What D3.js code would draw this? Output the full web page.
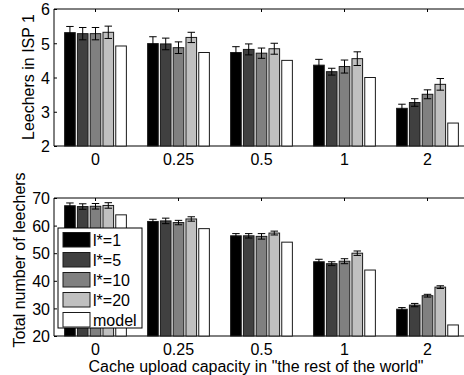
<!DOCTYPE html>
<html>
<head>
<meta charset="utf-8">
<script src="https://cdn.jsdelivr.net/npm/d3@7"></script>
<style>
  body { margin: 0; background: #fff; }
  text { font-family: "Liberation Sans", Arial, sans-serif; fill: #000; }
</style>
</head>
<body>
<svg id="chart" width="464" height="375"></svg>
<script>
// Cache upload capacity groups
const groups = ["0", "0.25", "0.5", "1", "2"];
const seriesNames = ["l*=1", "l*=5", "l*=10", "l*=20", "model"];
const seriesColors = ["#000000", "#404040", "#808080", "#c0c0c0", "#ffffff"];

// Leechers in ISP 1 (one array per series, by group)
const ispL1 = [5.31, 4.99, 4.73, 4.36, 3.10];
const ispL5 = [5.28, 4.98, 4.82, 4.17, 3.27];
const ispL10 = [5.28, 4.87, 4.71, 4.32, 3.51];
const ispL20 = [5.32, 5.17, 4.84, 4.55, 3.80];
const ispModel = [4.92, 4.73, 4.50, 4.00, 2.67];
const ispErrL1 = [0.18, 0.20, 0.17, 0.17, 0.12];
const ispErrL5 = [0.18, 0.17, 0.16, 0.10, 0.11];
const ispErrL10 = [0.18, 0.17, 0.15, 0.19, 0.13];
const ispErrL20 = [0.18, 0.15, 0.16, 0.20, 0.17];

// Total number of leechers
const totL1 = [67.2, 61.5, 56.3, 46.9, 29.7];
const totL5 = [66.9, 61.7, 56.3, 46.2, 31.2];
const totL10 = [67.0, 61.1, 56.1, 47.1, 34.6];
const totL20 = [67.3, 62.4, 57.3, 50.0, 37.7];
const totModel = [63.9, 58.9, 54.0, 43.9, 24.0];
const totErrL1 = [1.0, 0.8, 0.8, 0.9, 0.6];
const totErrL5 = [1.0, 1.0, 0.8, 0.7, 0.6];
const totErrL10 = [1.0, 0.8, 1.0, 0.9, 0.5];
const totErrL20 = [1.0, 0.8, 0.7, 0.8, 0.5];

const ispTicks = [2, 3, 4, 5, 6];
const totTicks = [20, 30, 40, 50, 60, 70];

const svg = d3.select("#chart");

// x position: group index 1..5, matlab-like limits
const x = d3.scaleLinear().domain([0.5, 5.5]).range([54, 469]);
const slot = 0.154;      // offset between bars in a group
const barW = 0.128;      // bar width in data units
const capW = 0.045;      // half width of error caps

function drawPanel(cfg) {
    const y = d3.scaleLinear().domain(cfg.domain).range(cfg.range);
    const g = svg.append("g");

    // flatten into bar records
    let bars = [];
    cfg.values.forEach((vals, s) => {
        vals.forEach((v, i) => {
            bars.push({
                s: s, i: i, value: v,
                err: cfg.errors[s] ? cfg.errors[s][i] : null
            });
        });
    });

    // x tick labels
    g.selectAll(".xlab")
        .data(groups)
        .join("text")
        .attr("x", (d, i) => x(i + 1))
        .attr("y", y.range()[0] + 19)
        .attr("text-anchor", "middle")
        .style("font-size", "16px")
        .text(d => d);

    // y axis with ticks pointing inward
    const yAxis = g.append("g")
        .attr("transform", `translate(${x(0.5)},0)`)
        .call(d3.axisLeft(y).tickValues(cfg.ticks).tickFormat(d3.format("d")).tickSize(-3).tickPadding(4));
    yAxis.select(".domain").remove();
    yAxis.selectAll("line").attr("stroke", "#000");
    yAxis.selectAll("text")
        .style("font-size", "16px")
        .style("font-family", "Liberation Sans, Arial, sans-serif")
        .attr("dy", "0.36em");

    // top ticks pointing down
    g.selectAll(".ttick")
        .data(groups)
        .join("line")
        .attr("x1", (d, i) => x(i + 1))
        .attr("x2", (d, i) => x(i + 1))
        .attr("y1", y.range()[1])
        .attr("y2", y.range()[1] + 3)
        .attr("stroke", "#000");

    // axis frame: left, top, bottom
    g.append("path")
        .attr("d", `M${x(5.5)},${y.range()[1]}H${x(0.5)}V${y.range()[0]}H${x(5.5)}`)
        .attr("fill", "none")
        .attr("stroke", "#000")
        .attr("stroke-width", 1);

    // bars
    g.selectAll(".bar")
        .data(bars)
        .join("rect")
        .attr("x", d => x(d.i + 1 + (d.s - 2) * slot - barW / 2))
        .attr("width", x(barW) - x(0))
        .attr("y", d => y(d.value))
        .attr("height", d => y(cfg.domain[0]) - y(d.value))
        .attr("fill", d => seriesColors[d.s])
        .attr("stroke", "#1a1a1a")
        .attr("stroke-width", 1);

    // error bars
    const eb = bars.filter(d => d.err !== null);
    const cx = d => x(d.i + 1 + (d.s - 2) * slot);
    g.selectAll(".errv")
        .data(eb)
        .join("line")
        .attr("x1", cx).attr("x2", cx)
        .attr("y1", d => y(d.value - d.err))
        .attr("y2", d => y(d.value + d.err))
        .attr("stroke", "#000");
    [-1, 1].forEach(sign => {
        g.selectAll(".cap" + sign)
            .data(eb)
            .join("line")
            .attr("x1", d => cx(d) - (x(capW) - x(0)))
            .attr("x2", d => cx(d) + (x(capW) - x(0)))
            .attr("y1", d => y(d.value + sign * d.err))
            .attr("y2", d => y(d.value + sign * d.err))
            .attr("stroke", "#000");
    });

    // y label
    g.append("text")
        .attr("transform", `translate(${cfg.labelX},${cfg.labelY}) rotate(-90)`)
        .attr("text-anchor", "middle")
        .attr("dy", "0.35em")
        .style("font-size", "16px")
        .text(cfg.label);

    return y;
}

drawPanel({
    domain: [2, 6], range: [146, 9], ticks: ispTicks,
    values: [ispL1, ispL5, ispL10, ispL20, ispModel],
    errors: [ispErrL1, ispErrL5, ispErrL10, ispErrL20],
    label: "Leechers in ISP 1", labelX: 28, labelY: 77
});

drawPanel({
    domain: [20, 70], range: [336, 198], ticks: totTicks,
    values: [totL1, totL5, totL10, totL20, totModel],
    errors: [totErrL1, totErrL5, totErrL10, totErrL20],
    label: "Total number of leechers", labelX: 19, labelY: 260
});

// legend
const legend = svg.append("g").attr("transform", "translate(58,228)");
legend.append("rect")
    .attr("width", 84).attr("height", 100)
    .attr("fill", "#fff").attr("stroke", "#000");
const items = legend.selectAll(".item")
    .data(seriesNames)
    .join("g")
    .attr("transform", (d, i) => `translate(5,${4.5 + i * 20})`);
items.append("rect")
    .attr("width", 27).attr("height", 14.5)
    .attr("fill", (d, i) => seriesColors[i])
    .attr("stroke", "#1a1a1a");
items.append("text")
    .attr("x", 30).attr("y", 7.5).attr("dy", "0.36em")
    .style("font-size", "16px")
    .text(d => d);

// x axis label
svg.append("text")
    .attr("x", 256).attr("y", 372)
    .attr("text-anchor", "middle")
    .style("font-size", "16px")
    .text('Cache upload capacity in "the rest of the world"');
</script>
</body>
</html>
